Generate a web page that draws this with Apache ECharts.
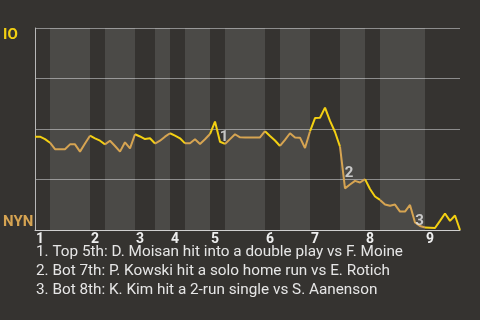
<!DOCTYPE html>
<html><head><meta charset="utf-8">
<script src="https://cdn.jsdelivr.net/npm/echarts@6/dist/echarts.min.js"></script>
<style>html,body{margin:0;padding:0;background:#353330;}#c{width:480px;height:320px;}</style>
</head><body><div id="c"></div>
<script>
// Teams
const awayTeam = 'IO';
const homeTeam = 'NYN';
// Away-team (IO) win probability after each plate appearance (index = PA number)
const winProb = [
  0.462, 0.462, 0.450, 0.432, 0.400, 0.400, 0.400, 0.424, 0.424, 0.388,
  0.428, 0.467, 0.454, 0.442, 0.424, 0.442, 0.416, 0.388, 0.434, 0.404,
  0.474, 0.463, 0.450, 0.454, 0.428, 0.442, 0.462, 0.479, 0.467, 0.454,
  0.429, 0.429, 0.449, 0.426, 0.449, 0.475, 0.537, 0.437, 0.426, 0.450,
  0.474, 0.459, 0.458, 0.458, 0.458, 0.458, 0.489, 0.465, 0.443, 0.416,
  0.446, 0.479, 0.458, 0.457, 0.406, 0.488, 0.554, 0.556, 0.606, 0.540,
  0.485, 0.413, 0.206, 0.225, 0.243, 0.235, 0.252, 0.203, 0.166, 0.149,
  0.126, 0.120, 0.126, 0.091, 0.091, 0.124, 0.037, 0.020, 0.012, 0.011,
  0.010, 0.045, 0.082, 0.045, 0.072, 0.000
];
// PA index where each half inning starts (top 1st, bot 1st, top 2nd, ...)
const halfInningStarts = [0, 3, 11, 14, 20, 24, 27, 30, 35, 38, 46, 49, 55, 61, 66, 69, 78];
const gameEnd = 85;
const inningLabels = ['1', '2', '3', '4', '5', '6', '7', '8', '9'];
// Key-play markers: [PA position, probability, label]
const keyPlayMarks = [[37.8, 0.458, '1'], [62.8, 0.280, '2'], [76.9, 0.045, '3']];
const keyPlayNotes = [
  '1. Top 5th: D. Moisan hit into a double play vs F. Moine',
  '2. Bot 7th: P. Kowski hit a solo home run vs E. Rotich',
  '3. Bot 8th: K. Kim hit a 2-run single vs S. Aanenson'
];

const AWAY_COLOR = '#f3d012';
const HOME_COLOR = '#d6a452';
const FONT = 'Roboto, "Noto Sans", sans-serif';

const halves = halfInningStarts.map((s, k) => ({
  start: s,
  end: k + 1 < halfInningStarts.length ? halfInningStarts[k + 1] : gameEnd,
  top: k % 2 === 0
}));
const bottomBands = halves.filter(h => !h.top).map(h => [{ xAxis: h.start }, { xAxis: h.end }]);
const topStarts = halves.filter(h => h.top).map(h => h.start);

function halfData(isTop) {
  return winProb.map((v, i) => {
    const inside = halves.some(h => h.top === isTop && i >= h.start && i <= h.end);
    return [i, inside ? v : '-'];
  });
}

const chart = echarts.init(document.getElementById('c'), null, { renderer: 'canvas' });
chart.setOption({
  backgroundColor: '#353330',
  animation: false,
  textStyle: { fontFamily: FONT },
  title: {
    text: keyPlayNotes.join('\n'),
    left: 36, top: 243, padding: 0,
    textStyle: { color: '#e6e6e6', fontSize: 15.3, fontWeight: 'normal', lineHeight: 18.7, fontFamily: FONT }
  },
  grid: { left: 35, right: 20, top: 28, bottom: 90 },
  xAxis: {
    type: 'value', min: 0, max: gameEnd,
    axisLine: { show: true, lineStyle: { color: '#cfcfcf', width: 1 } },
    axisTick: { show: false },
    splitLine: { show: false },
    axisLabel: {
      customValues: topStarts,
      formatter: (v) => inningLabels[topStarts.indexOf(v)] || '',
      align: 'left', margin: 2, color: '#eeeeee', fontSize: 14, fontWeight: 'bold', fontFamily: FONT,
      padding: [0, 0, 0, 1]
    }
  },
  yAxis: [{
    type: 'value', min: 0, max: 1, interval: 0.25, position: 'left',
    axisLine: { show: true, lineStyle: { color: '#b8b8b8' } },
    axisTick: { show: false },
    splitLine: { show: true, lineStyle: { color: '#8c8c8c', width: 1 } },
    axisLabel: {
      customValues: [1], formatter: () => awayTeam,
      align: 'left', verticalAlign: 'top', margin: 32,
      color: AWAY_COLOR, fontSize: 15, fontWeight: 'bold', fontFamily: FONT
    }
  }, {
    type: 'value', min: 0, max: 1, interval: 0.25, position: 'left',
    axisLine: { show: false }, axisTick: { show: false }, splitLine: { show: false },
    axisLabel: {
      customValues: [0], formatter: () => homeTeam,
      align: 'left', verticalAlign: 'bottom', margin: 32,
      color: HOME_COLOR, fontSize: 15, fontWeight: 'bold', fontFamily: FONT
    }
  }],
  series: [{
    name: awayTeam, type: 'line',
    data: halfData(true),
    showSymbol: false, symbol: 'none', connectNulls: false,
    lineStyle: { width: 2, color: AWAY_COLOR }, itemStyle: { color: AWAY_COLOR },
    z: 4, silent: true
  }, {
    name: homeTeam, type: 'line',
    data: halfData(false),
    showSymbol: false, symbol: 'none', connectNulls: false,
    lineStyle: { width: 2, color: HOME_COLOR }, itemStyle: { color: HOME_COLOR },
    z: 4, silent: true
  }, {
    type: 'line', data: [], z: 1, silent: true,
    markArea: { silent: true, itemStyle: { color: 'rgba(255,255,255,0.115)' }, data: bottomBands }
  }, {
    type: 'scatter', z: 5, silent: true,
    data: keyPlayMarks.map(m => ({ value: [m[0], m[1]], name: m[2] })),
    symbolSize: 1, itemStyle: { color: 'rgba(0,0,0,0)' },
    label: {
      show: true, position: 'inside', formatter: (p) => p.name,
      color: '#e8e8e8', fontSize: 15, fontWeight: 'bold', fontFamily: FONT
    }
  }]
});
</script>
</body></html>
